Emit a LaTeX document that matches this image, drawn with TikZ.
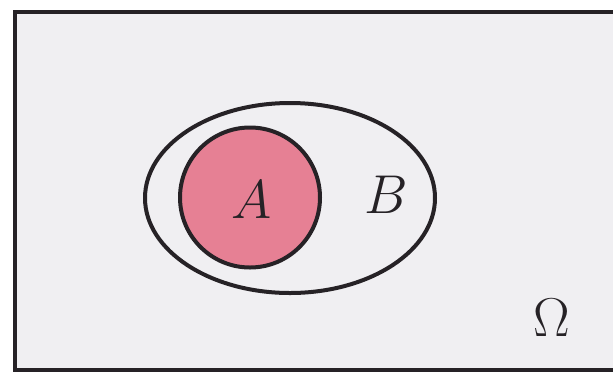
\documentclass[tikz,border=0pt]{standalone}
\usetikzlibrary{shapes.geometric}
\definecolor{bgray}{RGB}{240,239,242}
\definecolor{apink}{RGB}{230,128,148}
\definecolor{ink}{RGB}{38,34,38}
\newcommand{\bigsym}[1]{\scalebox{2.2}{\Huge$#1$}}
\begin{document}
\begin{tikzpicture}[x=1pt,y=-1pt,
  setline/.style={draw=ink,line width=4.5pt},
  lbl/.style={text=ink,inner sep=0pt}]
\useasboundingbox (0,0) rectangle (613,376);
\clip (0,0) rectangle (613,376);
\fill[white] (0,0) rectangle (613,376);
\draw[setline,fill=bgray] (15,12) rectangle (640,370);
\node[setline,ellipse,minimum width=290pt,minimum height=190pt,inner sep=0pt,line width=4pt] (B) at (290,198) {};
\node[setline,circle,fill=apink,minimum size=140pt,inner sep=0pt,line width=4pt] (A) at (250,197.5) {};
\node[lbl] (la) at (252,200) {\bigsym{A}};
\node[lbl] (lb) at (386,195) {\bigsym{B}};
\node[lbl] (lo) at (552,318) {\bigsym{\Omega}};
\end{tikzpicture}
\end{document}
